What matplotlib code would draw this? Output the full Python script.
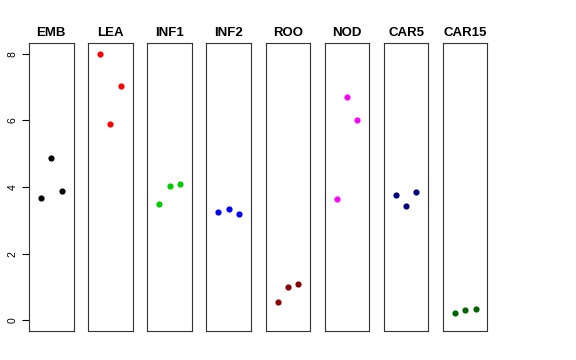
""" tissue panels """
import matplotlib
matplotlib.use("Agg")
import matplotlib.pyplot as plt

plt.rcParams['font.family'] = ['Liberation Sans', 'DejaVu Sans']

# panel names and colours
tissues = ["EMB", "LEA", "INF1", "INF2", "ROO", "NOD", "CAR5", "CAR15"]
colors = ["black", "red", "#00CD00", "blue", "#8B0000", "magenta", "#000080", "#006400"]

# three replicates per tissue
reps = [1, 2, 3]
emb = [3.68, 4.88, 3.89]
lea = [8.00, 5.89, 7.03]
inf1 = [3.48, 4.04, 4.09]
inf2 = [3.26, 3.34, 3.20]
roo = [0.55, 0.99, 1.10]
nod = [3.64, 6.69, 6.00]
car5 = [3.77, 3.44, 3.84]
car15 = [0.23, 0.31, 0.34]
values = [emb, lea, inf1, inf2, roo, nod, car5, car15]

yticks = [0, 2, 4, 6, 8]


def main():
    fig = plt.figure(figsize=(5.76, 3.6), dpi=100)
    W, H = 576.0, 360.0
    left0 = 29.0
    step = 59.14
    width = 44.5
    top, bottom = 43.0, 331.0

    for i, name in enumerate(tissues):
        x0 = left0 + i * step
        ax = fig.add_axes([x0 / W, 1 - bottom / H, width / W, (bottom - top) / H])
        ax.scatter(reps, values[i], c=colors[i], s=20, linewidths=0, zorder=3)
        ax.set_xlim(-0.16, 4.16)
        ax.set_ylim(-0.32, 8.32)
        ax.set_xticks([])
        ax.set_title(name, fontsize=9.5, fontweight='bold', pad=5)
        for sp in ax.spines.values():
            sp.set_linewidth(0.8)
            sp.set_color("#333333")
        if i == 0:
            ax.set_yticks(yticks)
            ax.set_yticklabels([str(t) for t in yticks], rotation=90,
                               va='center', fontsize=7.5)
            ax.tick_params(axis='y', length=5, width=0.8, pad=3)
        else:
            ax.set_yticks([])

    fig.savefig("out.png", dpi=100)


if __name__ == "__main__":
    main()
